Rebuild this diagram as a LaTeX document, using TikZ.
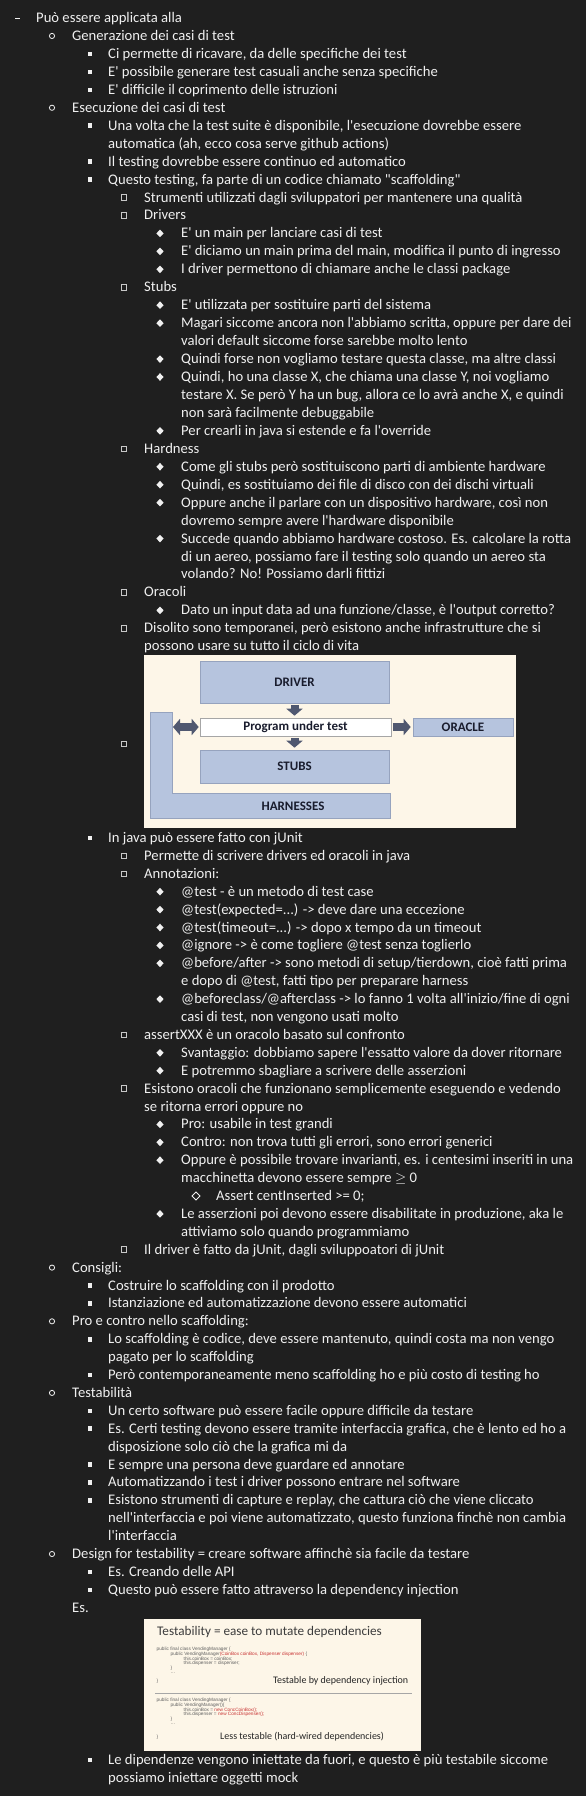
\documentclass[tikz,border=0pt]{standalone}
\usepackage{fontspec}
\newfontfamily\cf{Carlito}
\newfontfamily\lsans{Liberation Sans}
\usetikzlibrary{arrows.meta}
\definecolor{bg}{RGB}{31,31,31}
\definecolor{fg}{RGB}{240,240,240}
\definecolor{bulc}{RGB}{200,200,200}
\definecolor{cream}{RGB}{253,246,232}
\definecolor{boxblue}{RGB}{182,196,222}
\definecolor{boxedge}{RGB}{150,163,190}
\definecolor{arrowc}{RGB}{80,88,112}
\definecolor{navy}{RGB}{25,28,45}
\definecolor{codegray}{RGB}{95,95,95}
\definecolor{codered}{RGB}{200,50,50}
\definecolor{titlegray}{RGB}{60,60,60}
\newcommand\setrow[1]{\pgfmathsetmacro\ry{(#1<37) ? (18+(#1-1)*17.95) : ((#1<81) ? (838+(#1-37)*17.9) : (1760+(#1-81)*18))}}
\newcommand\levx[1]{\ifcase#1 0\or 36\or 72\or 108\or 144\or 181\or 216\fi}
\newcommand\drawbul[1]{%
 \ifcase#1\or
  \draw[fg, line width=1.3pt] (15,\ry+0.5) -- (19.5,\ry+0.5);
 \or
  \draw[fg, line width=0.8pt] (52,\ry) circle (2.6pt);
 \or
  \fill[fg] (87.7,\ry-2.3) rectangle (92.3,\ry+2.3);
 \or
  \draw[bulc, line width=0.9pt] (121.2,\ry-2.8) rectangle (126.8,\ry+2.8);
 \or
  \fill[fg] (160,\ry-3.8) -- (163.6,\ry) -- (160,\ry+3.8) -- (156.4,\ry) -- cycle;
 \or
  \draw[fg, line width=0.9pt] (196,\ry-4) -- (200,\ry) -- (196,\ry+4) -- (192,\ry) -- cycle;
 \fi}
\newcommand\ent[5]{\setrow{#3}\edef\tx{\levx{#2}}\node[txt] (#1) at (\tx,\ry+4.5) {#5};\ifnum#4=1 \drawbul{#2}\fi}
\tikzset{
  txt/.style={anchor=base west, inner sep=0pt, text=fg, font=\cf\fontsize{14.65}{17.9}\selectfont},
  img/.style={fill=cream, draw=none, inner sep=0pt},
  bbox/.style={fill=boxblue, draw=boxedge, line width=0.6pt, inner sep=0pt, text=navy, font=\cf\bfseries\fontsize{13}{14}\selectfont},
  pbox/.style={fill=white, draw=gray!70, line width=0.6pt, inner sep=0pt, text=navy, font=\cf\bfseries\fontsize{13}{14}\selectfont},
  harn/.style={fill=boxblue, draw=boxedge, line width=0.6pt},
  lbl/.style={inner sep=0pt, text=navy, font=\cf\bfseries\fontsize{13}{14}\selectfont},
  barrow/.style={draw=arrowc, line width=8pt, -{Triangle[width=16pt,length=7pt]}, shorten <=2pt, shorten >=2pt},
  dbarrow/.style={draw=arrowc, line width=8pt, {Triangle[width=16pt,length=7pt]}-{Triangle[width=16pt,length=7pt]}, shorten <=1pt, shorten >=1pt},
  code/.style={anchor=west, inner sep=0pt, text=codegray, font=\lsans\fontsize{4.7}{5}\selectfont},
  ttl/.style={anchor=west, inner sep=0pt, text=titlegray, font=\cf\fontsize{13.2}{15}\selectfont},
  sub/.style={anchor=west, inner sep=0pt, text=black!85, font=\cf\fontsize{10}{12}\selectfont},
  sepline/.style={draw=gray!70, line width=0.7pt}
}
\begin{document}
\begin{tikzpicture}[x=1pt,y=-1pt]
\useasboundingbox (0,0) rectangle (586,1796);
\fill[bg] (0,0) rectangle (586,1796);
\ent{l1}{1}{1}{1}{Può essere applicata alla}
\ent{l2}{2}{2}{1}{Generazione dei casi di test}
\ent{l3}{3}{3}{1}{Ci permette di ricavare, da delle specifiche dei test}
\ent{l4}{3}{4}{1}{E' possibile generare test casuali anche senza specifiche}
\ent{l5}{3}{5}{1}{E' difficile il coprimento delle istruzioni}
\ent{l6}{2}{6}{1}{Esecuzione dei casi di test}
\ent{l7}{3}{7}{1}{Una volta che la test suite è disponibile, l'esecuzione dovrebbe essere}
\ent{l8}{3}{8}{0}{automatica (ah, ecco cosa serve github actions)}
\ent{l9}{3}{9}{1}{Il testing dovrebbe essere continuo ed automatico}
\ent{l10}{3}{10}{1}{Questo testing, fa parte di un codice chiamato "scaffolding"}
\ent{l11}{4}{11}{1}{Strumenti utilizzati dagli sviluppatori per mantenere una qualità}
\ent{l12}{4}{12}{1}{Drivers}
\ent{l13}{5}{13}{1}{E' un main per lanciare casi di test}
\ent{l14}{5}{14}{1}{E' diciamo un main prima del main, modifica il punto di ingresso}
\ent{l15}{5}{15}{1}{I driver permettono di chiamare anche le classi package}
\ent{l16}{4}{16}{1}{Stubs}
\ent{l17}{5}{17}{1}{E' utilizzata per sostituire parti del sistema}
\ent{l18}{5}{18}{1}{Magari siccome ancora non l'abbiamo scritta, oppure per dare dei}
\ent{l19}{5}{19}{0}{valori default siccome forse sarebbe molto lento}
\ent{l20}{5}{20}{1}{Quindi forse non vogliamo testare questa classe, ma altre classi}
\ent{l21}{5}{21}{1}{Quindi, ho una classe X, che chiama una classe Y, noi vogliamo}
\ent{l22}{5}{22}{0}{testare X. Se però Y ha un bug, allora ce lo avrà anche X, e quindi}
\ent{l23}{5}{23}{0}{non sarà facilmente debuggabile}
\ent{l24}{5}{24}{1}{Per crearli in java si estende e fa l'override}
\ent{l25}{4}{25}{1}{Hardness}
\ent{l26}{5}{26}{1}{Come gli stubs però sostituiscono parti di ambiente hardware}
\ent{l27}{5}{27}{1}{Quindi, es sostituiamo dei file di disco con dei dischi virtuali}
\ent{l28}{5}{28}{1}{Oppure anche il parlare con un dispositivo hardware, così non}
\ent{l29}{5}{29}{0}{dovremo sempre avere l'hardware disponibile}
\ent{l30}{5}{30}{1}{Succede quando abbiamo hardware costoso. Es. calcolare la rotta}
\ent{l31}{5}{31}{0}{di un aereo, possiamo fare il testing solo quando un aereo sta}
\ent{l32}{5}{32}{0}{volando? No! Possiamo darli fittizi}
\ent{l33}{4}{33}{1}{Oracoli}
\ent{l34}{5}{34}{1}{Dato un input data ad una funzione/classe, è l'output corretto?}
\ent{l35}{4}{35}{1}{Disolito sono temporanei, però esistono anche infrastrutture che si}
\ent{l36}{4}{36}{0}{possono usare su tutto il ciclo di vita}
% image 1
\def\ry{744}\drawbul{4}
\node[img, minimum width=372pt, minimum height=173pt] (img1) at (330,741.5) {};
\draw[harn] (150,712) -- (172,712) -- (172,793) -- (390,793) -- (390,818) -- (150,818) -- cycle;
\node[lbl] (harnlbl) at (293,806) {HARNESSES};
\coordinate (hv) at (172,727);
\node[bbox, minimum width=189pt, minimum height=42pt] (driver) at (294.5,682) {DRIVER};
\node[pbox, minimum width=191pt, minimum height=18pt] (put) at (295.5,727) {Program under test};
\node[bbox, minimum width=189pt, minimum height=33pt] (stubs) at (294.5,766.5) {STUBS};
\node[bbox, minimum width=100pt, minimum height=18pt] (oracle) at (463,727) {ORACLE};
\draw[barrow] (driver.south) -- (driver.south |- put.north);
\draw[barrow] (stubs.north |- put.south) -- (stubs.north);
\draw[barrow] (put.east) -- (oracle.west);
\draw[dbarrow] (hv) -- (put.west);
% after image 1
\ent{l37}{3}{37}{1}{In java può essere fatto con jUnit}
\ent{l38}{4}{38}{1}{Permette di scrivere drivers ed oracoli in java}
\ent{l39}{4}{39}{1}{Annotazioni:}
\ent{l40}{5}{40}{1}{@test - è un metodo di test case}
\ent{l41}{5}{41}{1}{@test(expected=...) -> deve dare una eccezione}
\ent{l42}{5}{42}{1}{@test(timeout=...) -> dopo x tempo da un timeout}
\ent{l43}{5}{43}{1}{@ignore -> è come togliere @test senza toglierlo}
\ent{l44}{5}{44}{1}{@before/after -> sono metodi di setup/tierdown, cioè fatti prima}
\ent{l45}{5}{45}{0}{e dopo di @test, fatti tipo per preparare harness}
\ent{l46}{5}{46}{1}{@beforeclass/@afterclass -> lo fanno 1 volta all'inizio/fine di ogni}
\ent{l47}{5}{47}{0}{casi di test, non vengono usati molto}
\ent{l48}{4}{48}{1}{assertXXX è un oracolo basato sul confronto}
\ent{l49}{5}{49}{1}{Svantaggio: dobbiamo sapere l'essatto valore da dover ritornare}
\ent{l50}{5}{50}{1}{E potremmo sbagliare a scrivere delle asserzioni}
\ent{l51}{4}{51}{1}{Esistono oracoli che funzionano semplicemente eseguendo e vedendo}
\ent{l52}{4}{52}{0}{se ritorna errori oppure no}
\ent{l53}{5}{53}{1}{Pro: usabile in test grandi}
\ent{l54}{5}{54}{1}{Contro: non trova tutti gli errori, sono errori generici}
\ent{l55}{5}{55}{1}{Oppure è possibile trovare invarianti, es. i centesimi inseriti in una}
\ent{l56}{5}{56}{0}{macchinetta devono essere sempre $\geq$ 0}
\ent{l57}{6}{57}{1}{Assert centInserted >= 0;}
\ent{l58}{5}{58}{1}{Le asserzioni poi devono essere disabilitate in produzione, aka le}
\ent{l59}{5}{59}{0}{attiviamo solo quando programmiamo}
\ent{l60}{4}{60}{1}{Il driver è fatto da jUnit, dagli sviluppoatori di jUnit}
\ent{l61}{2}{61}{1}{Consigli:}
\ent{l62}{3}{62}{1}{Costruire lo scaffolding con il prodotto}
\ent{l63}{3}{63}{1}{Istanziazione ed automatizzazione devono essere automatici}
\ent{l64}{2}{64}{1}{Pro e contro nello scaffolding:}
\ent{l65}{3}{65}{1}{Lo scaffolding è codice, deve essere mantenuto, quindi costa ma non vengo}
\ent{l66}{3}{66}{0}{pagato per lo scaffolding}
\ent{l67}{3}{67}{1}{Però contemporaneamente meno scaffolding ho e più costo di testing ho}
\ent{l68}{2}{68}{1}{Testabilità}
\ent{l69}{3}{69}{1}{Un certo software può essere facile oppure difficile da testare}
\ent{l70}{3}{70}{1}{Es. Certi testing devono essere tramite interfaccia grafica, che è lento ed ho a}
\ent{l71}{3}{71}{0}{disposizione solo ciò che la grafica mi da}
\ent{l72}{3}{72}{1}{E sempre una persona deve guardare ed annotare}
\ent{l73}{3}{73}{1}{Automatizzando i test i driver possono entrare nel software}
\ent{l74}{3}{74}{1}{Esistono strumenti di capture e replay, che cattura ciò che viene cliccato}
\ent{l75}{3}{75}{0}{nell'interfaccia e poi viene automatizzato, questo funziona finchè non cambia}
\ent{l76}{3}{76}{0}{l'interfaccia}
\ent{l77}{2}{77}{1}{Design for testability = creare software affinchè sia facile da testare}
\ent{l78}{3}{78}{1}{Es. Creando delle API}
\ent{l79}{3}{79}{1}{Questo può essere fatto attraverso la dependency injection}
\ent{l80}{2}{80}{0}{Es.}
% image 2
\node[img, minimum width=277pt, minimum height=132pt] (img2) at (282.5,1685) {};
\node[ttl] (ttl) at (157,1632) {Testability = ease to mutate dependencies};
\node[code] (c1) at (156.5,1649.3) {public final class VendingManager \{};
\node[code] (c2) at (170.5,1654) {public VendingManager{\color{codered}(CoinBox coinBox, Dispenser dispenser)} \{};
\node[code] (c3) at (183.5,1658.7) {this.coinBox = coinBox;};
\node[code] (c4) at (183.5,1663.3) {this.dispenser = dispenser;};
\node[code] (c5) at (170.5,1668.5) {\}};
\node[code] (c6) at (170.5,1673) {…};
\node[code] (c7) at (156.5,1681) {\}};
\node[sub] (s1) at (273,1681) {Testable by dependency injection};
\coordinate (sepa) at (155,1693);
\coordinate (sepb) at (412,1693);
\draw[sepline] (sepa) -- (sepb);
\node[code] (c8) at (156.5,1700.7) {public final class VendingManager \{};
\node[code] (c9) at (170.5,1705.3) {public VendingManager()\{};
\node[code] (c10) at (183.5,1710) {this.coinBox = {\color{codered}new ConcCoinBox();}};
\node[code] (c11) at (183.5,1714.5) {this.dispenser = {\color{codered}new ConcDispenser();}};
\node[code] (c12) at (170.5,1719.5) {\}};
\node[code] (c13) at (170.5,1724) {…};
\node[code] (c14) at (156.5,1737.3) {\}};
\node[sub] (s2) at (220,1737) {Less testable (hard-wired dependencies)};
% final
\ent{l81}{3}{81}{1}{Le dipendenze vengono iniettate da fuori, e questo è più testabile siccome}
\ent{l82}{3}{82}{0}{possiamo iniettare oggetti mock}
\end{tikzpicture}
\end{document}
